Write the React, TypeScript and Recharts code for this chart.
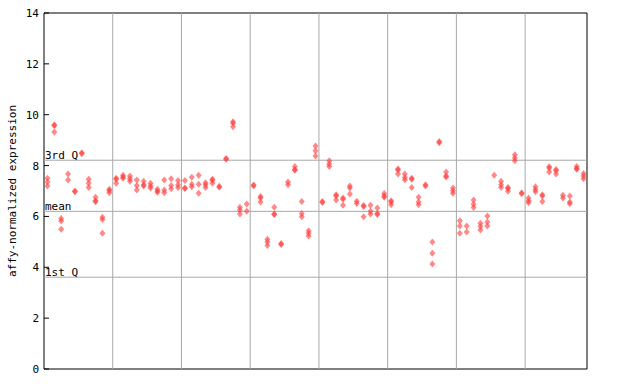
import { ReferenceArea, ReferenceLine, Scatter, ScatterChart, XAxis, YAxis } from 'recharts'

// Replicate values per sample column, read left to right off the plot.
const sampleValues: number[][] = [
  [7.5, 7.35, 7.2], [9.6, 9.58, 9.32], [5.92, 5.82, 5.5], [7.67, 7.43], [7.0, 6.97],
  [8.5, 8.46], [7.46, 7.3, 7.14], [6.75, 6.62, 6.58], [5.97, 5.88, 5.34], [7.07, 7.02, 6.93],
  [7.5, 7.46, 7.3], [7.62, 7.55, 7.5], [7.59, 7.48, 7.38], [7.43, 7.22, 7.04], [7.38, 7.25, 7.2],
  [7.3, 7.2, 7.12], [7.07, 7.0, 6.95], [7.43, 7.04, 6.93], [7.48, 7.22, 7.09], [7.41, 7.25, 7.14],
  [7.41, 7.12, 7.1], [7.54, 7.27, 7.17], [7.62, 7.27, 6.91], [7.32, 7.25, 7.14], [7.46, 7.42, 7.3],
  [7.19, 7.15], [8.28, 8.25], [9.72, 9.66, 9.53], [6.36, 6.25, 6.1], [6.49, 6.2],
  [7.24, 7.2], [6.78, 6.72, 6.57], [5.1, 4.99, 4.86], [6.36, 6.1, 6.08], [4.94, 4.9],
  [7.35, 7.25], [7.96, 7.85, 7.82], [6.59, 6.12, 5.99], [5.44, 5.34, 5.23], [8.77, 8.58, 8.38],
  [6.59, 6.55], [8.19, 8.06, 7.96], [6.85, 6.8, 6.65], [6.72, 6.68, 6.44], [7.2, 7.12, 6.88],
  [6.6, 6.51], [6.43, 6.39, 5.99], [6.44, 6.2, 6.1], [6.33, 6.12, 6.08], [6.9, 6.8, 6.75],
  [6.62, 6.57, 6.46], [7.87, 7.83, 7.67], [7.67, 7.53, 7.44], [7.5, 7.46, 7.14], [6.75, 6.57, 6.46],
  [7.25, 7.2], [4.99, 4.55, 4.13], [8.95, 8.9], [7.75, 7.59, 7.55], [7.12, 7.01, 6.91],
  [5.83, 5.62, 5.34], [5.62, 5.39], [6.65, 6.48, 6.35], [5.73, 5.6, 5.47], [6.02, 5.78, 5.62],
  [7.62], [7.38, 7.25, 7.14], [7.14, 7.1, 6.99], [8.43, 8.3, 8.19], [6.93, 6.89],
  [6.72, 6.62, 6.54], [7.17, 7.06, 6.97], [6.85, 6.8, 6.59], [7.95, 7.9, 7.75], [7.85, 7.8, 7.67],
  [6.83, 6.72], [6.8, 6.57, 6.5], [7.96, 7.88, 7.86], [7.69, 7.59, 7.48],
]

const yTicks = [0, 2, 4, 6, 8, 10, 12, 14]
const groupBreaks = [9.5, 19.5, 29.5, 39.5, 49.5, 59.5, 69.5]
const quantileLabels = ['3rd Q', 'mean', '1st Q']
const quantileValues = [8.21, 6.2, 3.61]

const FONT = 'DejaVu Sans Mono'
const GRID = '#a8a8a8'
const RED = '#ff3b3b'

const points = sampleValues.flatMap((vals, i) => vals.map((v) => ({ x: i, y: v })))
const xDomain = [-0.5, sampleValues.length - 0.5]

function Diamond(p: any) {
  const { cx, cy } = p
  if (cx == null || cy == null) return null
  return (
    <polygon
      points={`${cx},${cy - 3.5} ${cx + 3},${cy} ${cx},${cy + 3.5} ${cx - 3},${cy}`}
      fill={RED}
      fillOpacity={0.6}
    />
  )
}

function LeftTick(p: any) {
  const ax = p.x + 5
  return (
    <g>
      <line x1={ax} x2={ax + 5} y1={p.y} y2={p.y} stroke="#000" />
      <text x={p.x} y={p.y} dy={4} textAnchor="end" fontFamily={FONT} fontSize={11} fill="#000">
        {p.payload.value}
      </text>
    </g>
  )
}

function RightTick(p: any) {
  return <line x1={p.x - 5} x2={p.x} y1={p.y} y2={p.y} stroke="#000" />
}

function AxisTitle(props: any) {
  const vb = props.viewBox
  const cx = vb.x + 8
  const cy = vb.y + vb.height / 2
  return (
    <text
      x={cx}
      y={cy}
      transform={`rotate(-90 ${cx} ${cy})`}
      textAnchor="middle"
      dominantBaseline="central"
      fontFamily={FONT}
      fontSize={11}
      fill="#000"
    >
      affy-normalized expression
    </text>
  )
}

export default function App() {
  return (
    <div style={{ position: 'absolute', left: 0, top: 0, background: '#fff' }}>
      <ScatterChart width={640} height={384} margin={{ top: 13, right: 0, bottom: 15, left: 4 }}>
        <XAxis type="number" dataKey="x" domain={xDomain} hide />
        <YAxis
          type="number"
          dataKey="y"
          domain={[0, 14]}
          ticks={yTicks}
          width={40}
          axisLine={false}
          tickLine={false}
          tickSize={0}
          tickMargin={5}
          tick={<LeftTick />}
          label={{ content: <AxisTitle /> }}
        />
        <YAxis
          yAxisId="right"
          orientation="right"
          type="number"
          domain={[0, 14]}
          ticks={yTicks}
          width={53}
          axisLine={false}
          tickLine={false}
          tickSize={0}
          tickMargin={0}
          tick={<RightTick />}
        />
        {groupBreaks.map((b) => (
          <ReferenceLine key={b} x={b} stroke={GRID} strokeWidth={1} />
        ))}
        {quantileValues.map((v, i) => (
          <ReferenceLine
            key={quantileLabels[i]}
            y={v}
            stroke={GRID}
            strokeWidth={1}
            label={{
              content: (props: any) => (
                <text
                  x={props.viewBox.x + 1}
                  y={props.viewBox.y - 1.5}
                  fontFamily={FONT}
                  fontSize={11}
                  fill="#000"
                >
                  {quantileLabels[i]}
                </text>
              ),
            }}
          />
        ))}
        <Scatter data={points} shape={<Diamond />} isAnimationActive={false} />
        <ReferenceArea
          x1={xDomain[0]}
          x2={xDomain[1]}
          y1={0}
          y2={14}
          fill="none"
          stroke="#000"
          strokeWidth={1}
          ifOverflow="visible"
        />
      </ScatterChart>
    </div>
  )
}
